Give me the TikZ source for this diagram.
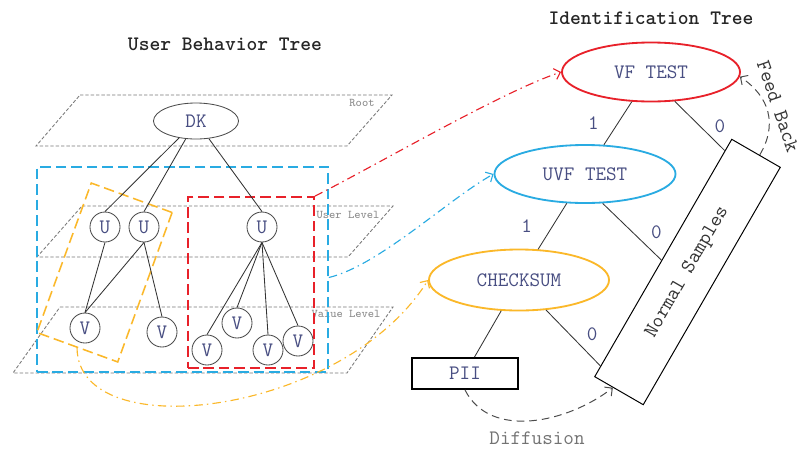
\documentclass[tikz,border=0pt]{standalone}
\usetikzlibrary{arrows.meta, calc, shapes.geometric}

\definecolor{boxblue}{RGB}{41,171,226}
\definecolor{boxred}{RGB}{232,33,42}
\definecolor{boxyellow}{RGB}{251,184,41}
\definecolor{inkblue}{RGB}{72,78,130}
\definecolor{planegray}{RGB}{120,120,120}

\newcommand{\treefont}{\fontsize{14.6}{17}\selectfont\ttfamily}
\newcommand{\levelfont}{\fontsize{8.4}{10}\selectfont\ttfamily}

\begin{document}
\begin{tikzpicture}[x=0.025cm, y=-0.025cm,
    planeline/.style={draw=planegray, line width=0.6pt, dash pattern=on 2.4pt off 1.4pt},
    levelname/.style={font=\levelfont, text=planegray!85},
    tnode/.style={circle, draw=black!70, fill=white, line width=0.6pt, minimum size=0.75cm, inner sep=0pt, font=\treefont, text=inkblue},
    branch/.style={draw=black!80, line width=0.6pt},
    groupbox/.style={line width=1.2pt, dash pattern=on 7.5pt off 3.5pt, inner sep=0pt},
    testnode/.style={ellipse, line width=1.3pt, inner sep=0pt, font=\treefont, text=inkblue},
    bitlabel/.style={font=\treefont, text=inkblue},
    mapping/.style={line width=0.8pt, dash pattern=on 6pt off 3pt on 1pt off 3pt, -{Straight Barb[length=4pt,width=8pt]}},
    backarrow/.style={line width=0.7pt, black!70, dash pattern=on 5.5pt off 3.5pt, -{Straight Barb[length=4pt,width=8pt]}}]
    \path[use as bounding box, fill=white] (0,0) rectangle (802,449);

    \node[font=\treefont\bfseries, text=black!85] (ubt) at (225,44) {User Behavior Tree};
    \node[font=\treefont\bfseries, text=black!85] (itt) at (651,18) {Identification Tree};

    \draw[planeline] (80,95) -- (392,95) -- (347,146) -- (36,146) -- cycle;
    \draw[planeline] (82,206) -- (393,206) -- (348,257) -- (37,257) -- cycle;
    \draw[planeline] (60,307) -- (393,307) -- (347,373) -- (13,373) -- cycle;
    \node[levelname] (root) at (362,103) {Root};
    \node[levelname] (ulevel) at (348,215) {User Level};
    \node[levelname] (vlevel) at (346,314) {Value Level};

    \node[groupbox, draw=boxblue, minimum width=7.275cm, minimum height=5.125cm] (bbox) at (182.5,269.5) {};
    \node[groupbox, draw=boxyellow, line width=1.1pt, rotate=-20, minimum width=2.15cm, minimum height=3.975cm] (ybox) at (104.5,272.5) {};
    \node[groupbox, draw=boxred, line width=1.3pt, minimum width=3.15cm, minimum height=4.275cm] (rbox) at (251,282.5) {};

    \node[ellipse, draw=black!70, line width=0.6pt, minimum width=2.125cm, minimum height=0.9cm, inner sep=0pt, font=\treefont, text=inkblue] (dk) at (196,121) {DK};
    \node[tnode] (u1) at (105,227) {U};
    \node[tnode] (u2) at (144,227) {U};
    \node[tnode] (u3) at (262,227) {U};
    \node[tnode] (v1) at (85,328) {V};
    \node[tnode] (v2) at (162,332) {V};
    \node[tnode] (v3) at (207,350) {V};
    \node[tnode] (v4) at (237,323) {V};
    \node[tnode] (v5) at (268,350) {V};
    \node[tnode] (v6) at (298,341) {V};

    \foreach \u in {u1,u2,u3}
        \draw[branch] (dk) -- (\u.north);
    \draw[branch] (u1.south) -- (v1.north);
    \draw[branch] (u2.south) -- (v1.north);
    \draw[branch] (u2.south) -- (v2.north);
    \foreach \v in {v3,v4,v5,v6}
        \draw[branch] (u3.south) -- (\v.north);

    \node[testnode, draw=boxred, minimum width=4.45cm, minimum height=1.475cm] (vf) at (651,72) {VF TEST};
    \node[testnode, draw=boxblue, minimum width=4.525cm, minimum height=1.45cm] (uvf) at (585,174) {UVF TEST};
    \node[testnode, draw=boxyellow, minimum width=4.5cm, minimum height=1.525cm] (chk) at (519,280) {CHECKSUM};
    \node[draw, line width=1.3pt, minimum width=2.65cm, minimum height=0.775cm, inner sep=0pt, font=\treefont, text=inkblue] (pii) at (465,373.5) {PII};
    \node[draw, line width=0.7pt, rotate=60, minimum width=6.85cm, minimum height=1.4cm, inner sep=0pt, font=\treefont, text=black!80] (ns) at (687.5,272) {Normal Samples};

    \draw[branch] (vf) -- node[bitlabel, left=10pt] (b1) {1} (uvf);
    \draw[branch] (vf.-51) -- node[bitlabel, right=7pt] (b2) {0} ($(ns.north west)!0.95!(ns.north east)$);
    \draw[branch] (uvf) -- node[bitlabel, left=11pt] (b3) {1} (chk);
    \draw[branch] (uvf.-59) -- node[bitlabel, right=10pt] (b4) {0} ($(ns.north west)!0.49!(ns.north east)$);
    \draw[branch] (chk) -- (pii);
    \draw[branch] (chk.-48) -- node[bitlabel, right=6pt, yshift=3pt] (b5) {0} ($(ns.north west)!0.046!(ns.north east)$);

    \draw[mapping, boxred] (rbox.north east) .. controls +(60,-30) and +(-60,20) .. (vf.west);
    \draw[mapping, boxblue] ($(bbox.east)+(0,8)$) .. controls +(50,-12) and +(-45,25) .. (uvf.west);
    \draw[mapping, boxyellow] (ybox.south) .. controls +(1,100) and +(-84,135) .. (chk.west);

    \draw[backarrow] ($(ns.north east)!0.57!(ns.south east)$) .. controls +(18,-30) and +(30,20) .. (vf.-3);
    \node[font=\treefont, text=black!80, rotate=-71] (fb) at (778,106) {Feed Back};
    \draw[backarrow] (pii.south) .. controls +(25,50) and +(-45,35) .. ($(ns.north west)!0.38!(ns.south west)$);
    \node[font=\treefont, text=black!55] (diff) at (537,438) {Diffusion};
\end{tikzpicture}
\end{document}
